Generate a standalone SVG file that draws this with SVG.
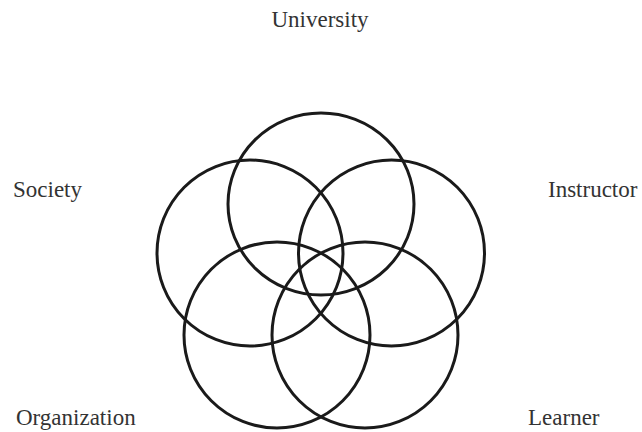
<svg xmlns="http://www.w3.org/2000/svg" width="642" height="432" viewBox="0 0 642 432">
<style>
.c{fill:none;stroke:#1a1a1a;stroke-width:3}
.t{font-family:"Liberation Serif","DejaVu Serif",serif;font-size:23px;fill:#333}
</style>
<rect width="642" height="432" fill="#fff"/>
<g id="university-circle"><ellipse class="c" cx="321" cy="204" rx="93" ry="91"/></g>
<g id="society-circle"><circle class="c" cx="250" cy="253" r="93"/></g>
<g id="instructor-circle"><circle class="c" cx="391.5" cy="253" r="93"/></g>
<g id="organization-circle"><circle class="c" cx="277" cy="335" r="93"/></g>
<g id="learner-circle"><circle class="c" cx="365" cy="335" r="93"/></g>
<g id="labels">
<text class="t" x="320" y="27" text-anchor="middle">University</text>
<text class="t" x="13" y="197">Society</text>
<text class="t" x="548" y="197">Instructor</text>
<text class="t" x="16" y="425">Organization</text>
<text class="t" x="528" y="425">Learner</text>
</g>
</svg>
